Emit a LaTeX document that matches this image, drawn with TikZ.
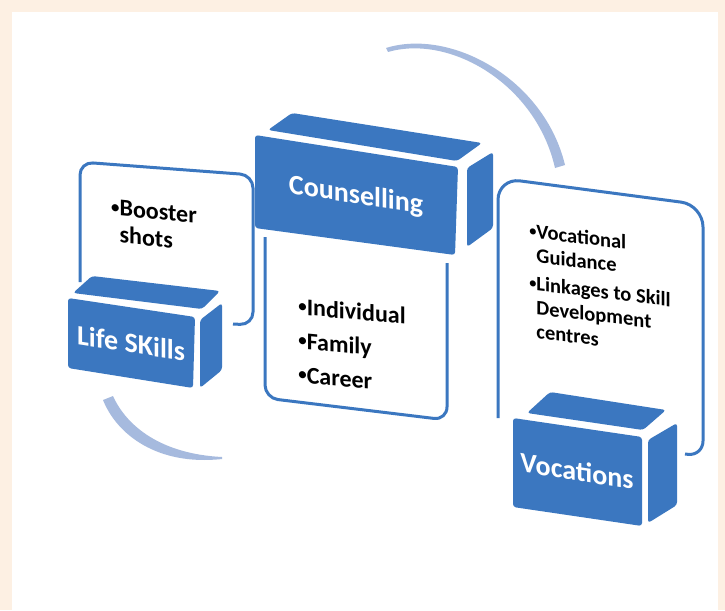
\documentclass[tikz,border=0pt]{standalone}
\usepackage{fontspec}
\setmainfont{Carlito}
\usetikzlibrary{calc}
\definecolor{boxblue}{RGB}{59,119,192}
\definecolor{arcblue}{RGB}{166,186,222}
\definecolor{pagebg}{RGB}{253,240,227}
\newcommand{\dotmark}{\raisebox{0.12em}{\scalebox{0.7}{•}}}
\newcommand{\dotgap}{\hphantom{\dotmark}}
\tikzstyle{face} = [fill=boxblue, rounded corners=3pt]
\tikzstyle{frame} = [draw=boxblue, line width=3pt, rounded corners=13pt]
\tikzstyle{swoosh} = [fill=arcblue]
\tikzstyle{title} = [text=white, inner sep=0pt, yslant=-0.155,
                     font=\fontsize{28}{30}\selectfont\bfseries]
\tikzstyle{points} = [text=black, align=left, inner sep=0pt]

\begin{document}
\begin{tikzpicture}[x=1pt,y=-1pt]
    \useasboundingbox (0,0) rectangle (725,610);
    \fill[pagebg] (0,0) rectangle (725,610);
    \fill[white] (12,12) rectangle (718,610);
    \fill[swoosh] (386,48) .. controls (450,28) and (544,78) .. (565,165) -- (555,168) .. controls (536,84) and (450,34) .. (388,52) -- cycle;
    \fill[swoosh] (103,400) .. controls (117,435) and (158,466) .. (222,459) -- (222,457) .. controls (162,454) and (127,427) .. (113,396) -- cycle;
    \draw[frame] (80,282) -- (80,162) -- (253,175) -- (253,325) -- (233,324);
    \draw[frame] (265,237) -- (265,398) -- (447,420) -- (447,263);
    \draw[frame, rounded corners=22pt] (498,418) -- (498,178) -- (703,205) [rounded corners=15pt] -- (703,456) -- (685,454);
    \fill[face] (92,276) -- (220,291) -- (202,309) -- (73,293) -- cycle;
    \fill[face] (68,298) -- (195,317) -- (193,388) -- (68,368) -- cycle;
    \fill[face] (200,320) -- (222,303) -- (222,370) -- (200,388) -- cycle;
    \fill[face] (292,113) -- (482,143) -- (457,161) -- (268,130) -- cycle;
    \fill[face] (255,135) -- (458,167) -- (455,255) -- (255,228) -- cycle;
    \fill[face] (467,168) -- (493,152) -- (493,228) -- (467,247) -- cycle;
    \fill[face] (550,392) -- (666,410) -- (643,430) -- (527,413) -- cycle;
    \fill[face] (513,418) -- (642,437) -- (642,526) -- (513,507) -- cycle;
    \fill[face] (648,440) -- (677,423) -- (677,505) -- (648,523) -- cycle;
    \node[title] (lifeskills) at (131,343) {Life SKills};
    \node[title] (counselling) at (356,196) {Counselling};
    \node[title] (vocations) at (577,471) {Vocations};
    \node[points, yslant=-0.1, font=\fontsize{24}{27}\selectfont\bfseries] (boosterlist) at (154,225) {\dotmark Booster\\\dotgap shots};
    \node[points, yslant=-0.09, font=\fontsize{24}{34}\selectfont\bfseries] (counsellinglist) at (352,345) {\dotmark Individual\\\dotmark Family\\\dotmark Career};
    \node[points, yslant=-0.12, font=\fontsize{20.5}{24}\selectfont\bfseries] (vocationlist) at (600,289) {\dotmark Vocational\\\dotgap Guidance\\[4pt]\dotmark Linkages to Skill\\\dotgap Development\\\dotgap centres};
\end{tikzpicture}
\end{document}
